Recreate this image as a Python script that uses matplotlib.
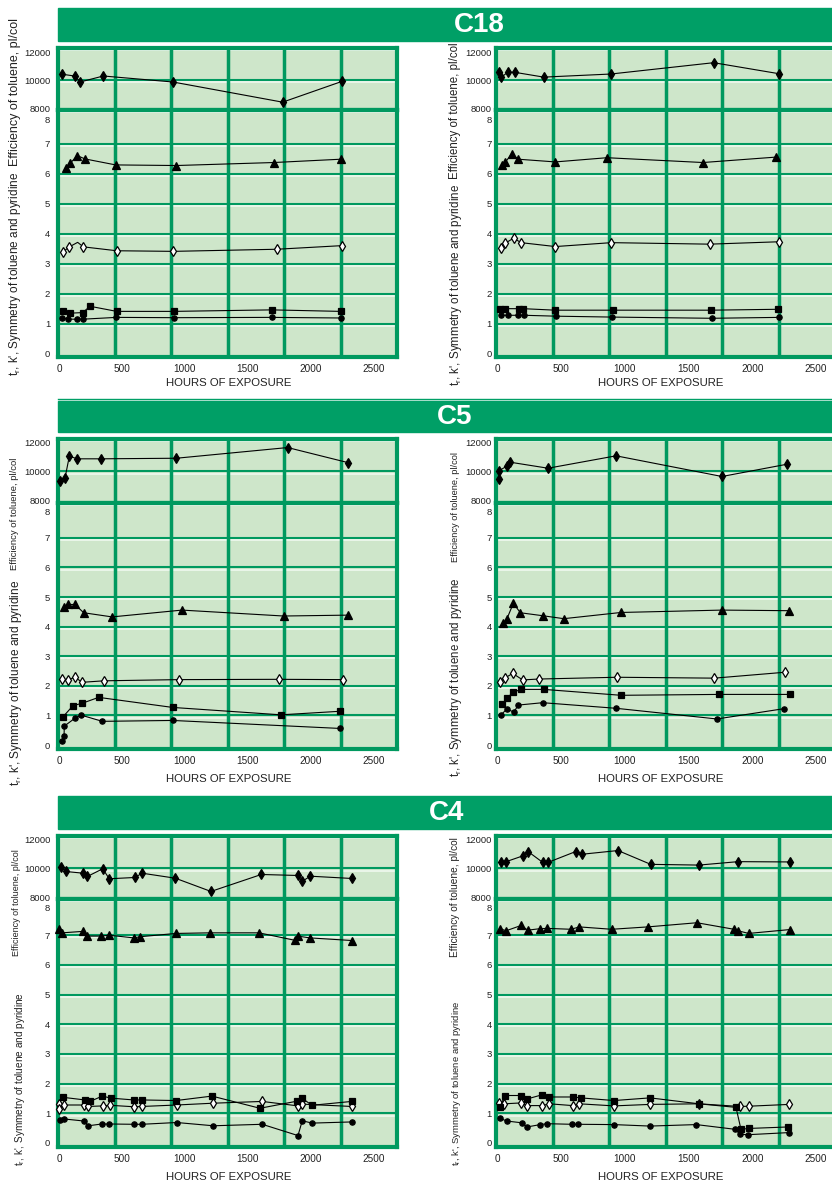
import matplotlib
matplotlib.use("Agg")
import matplotlib.pyplot as plt
from matplotlib.patches import Rectangle
from matplotlib.lines import Line2D
from matplotlib.transforms import ScaledTranslation

plt.rcParams['font.family'] = ['Liberation Sans', 'DejaVu Sans']

# ---------------- DATA (hours of exposure, values) ----------------
SECTIONS = ["C18", "C5", "C4"]
X_TICKS = [0, 500, 1000, 1500, 2000, 2500]
EFF_TICKS = [8000, 10000, 12000]
SYM_TICKS = [0, 1, 2, 3, 4, 5, 6, 7, 8]
X_LABEL = "HOURS OF EXPOSURE"
EFF_LABEL = "Efficiency of toluene, pl/col"
SYM_LABEL = "t$_\\mathregular{r}$, k', Symmetry of toluene and pyridine"

# C18 left
C18L_eff_h = [21, 130, 167, 352, 905, 1775, 2248]
C18L_eff_v = [10420, 10280, 9860, 10290, 9860, 8420, 9910]
C18L_tri_h = [53, 90, 145, 206, 450, 931, 1706, 2236]
C18L_tri_v = [6.21, 6.36, 6.61, 6.50, 6.30, 6.28, 6.38, 6.49]
C18L_odia_h = [34, 82, 148, 193, 458, 907, 1728, 2243]
C18L_odia_v = [3.41, 3.57, 3.72, 3.57, 3.44, 3.42, 3.49, 3.61]
C18L_sq_h = [29, 87, 188, 246, 458, 910, 1688, 2236]
C18L_sq_v = [1.42, 1.36, 1.38, 1.59, 1.42, 1.42, 1.47, 1.42]
C18L_cir_h = [26, 71, 145, 190, 455, 910, 1688, 2236]
C18L_cir_v = [1.21, 1.16, 1.16, 1.16, 1.22, 1.21, 1.22, 1.20]

# C18 right
C18R_eff_h = [13, 34, 84, 141, 366, 891, 1698, 2212]
C18R_eff_v = [10590, 10190, 10570, 10550, 10210, 10430, 11240, 10450]
C18R_tri_h = [37, 65, 115, 167, 457, 862, 1614, 2184]
C18R_tri_v = [6.31, 6.39, 6.67, 6.49, 6.40, 6.54, 6.38, 6.56]
C18R_odia_h = [29, 63, 131, 188, 457, 896, 1667, 2212]
C18R_odia_v = [3.52, 3.69, 3.86, 3.71, 3.58, 3.71, 3.66, 3.74]
C18R_sq_h = [26, 65, 175, 206, 457, 907, 1675, 2202]
C18R_sq_v = [1.51, 1.51, 1.51, 1.51, 1.46, 1.46, 1.46, 1.49]
C18R_cir_h = [29, 84, 165, 214, 465, 904, 1683, 2210]
C18R_cir_v = [1.29, 1.29, 1.29, 1.29, 1.26, 1.23, 1.19, 1.22]

# C5 left
C5L_eff_h = [8, 48, 82, 145, 333, 931, 1815, 2291]
C5L_eff_v = [9320, 9560, 11070, 10890, 10890, 10930, 11680, 10630]
C5L_tri_h = [42, 74, 127, 196, 421, 976, 1783, 2296]
C5L_tri_v = [4.67, 4.75, 4.75, 4.47, 4.33, 4.56, 4.36, 4.39]
C5L_odia_h = [21, 74, 125, 185, 357, 950, 1744, 2256]
C5L_odia_v = [2.22, 2.20, 2.29, 2.12, 2.17, 2.21, 2.22, 2.21]
C5L_sq_h = [29, 111, 183, 315, 902, 1762, 2230]
C5L_sq_v = [0.94, 1.33, 1.41, 1.61, 1.27, 1.02, 1.14]
C5L_cir_h = [24, 40, 42, 125, 175, 344, 902, 2230]
C5L_cir_v = [0.15, 0.31, 0.64, 0.90, 1.01, 0.80, 0.83, 0.56]

# C5 right
C5R_eff_h = [15, 18, 76, 104, 400, 933, 1763, 2273]
C5R_eff_v = [9490, 10070, 10370, 10650, 10230, 11100, 9650, 10510]
C5R_tri_h = [49, 78, 128, 183, 358, 523, 972, 1763, 2286]
C5R_tri_v = [4.11, 4.27, 4.79, 4.47, 4.37, 4.27, 4.48, 4.56, 4.54]
C5R_odia_h = [24, 60, 123, 201, 327, 940, 1703, 2259]
C5R_odia_v = [2.12, 2.26, 2.42, 2.20, 2.23, 2.29, 2.26, 2.46]
C5R_sq_h = [39, 78, 125, 188, 366, 972, 1737, 2296]
C5R_sq_v = [1.37, 1.58, 1.78, 1.88, 1.88, 1.68, 1.71, 1.71]
C5R_cir_h = [29, 78, 131, 167, 358, 935, 1724, 2252]
C5R_cir_v = [1.01, 1.22, 1.11, 1.35, 1.43, 1.24, 0.88, 1.23]

# C4 left
C4L_eff_h = [18, 53, 193, 225, 347, 399, 603, 659, 923, 1206, 1606, 1897, 1929, 1995, 2325]
C4L_eff_v = [10140, 9790, 9670, 9440, 9980, 9280, 9370, 9670, 9320, 8390, 9580, 9510, 9090, 9460, 9300]
C4L_tri_h = [2, 24, 193, 225, 336, 397, 593, 645, 929, 1201, 1587, 1871, 1894, 1992, 2328]
C4L_tri_v = [7.22, 7.08, 7.13, 6.97, 6.97, 7.00, 6.91, 6.95, 7.06, 7.08, 7.08, 6.83, 6.97, 6.91, 6.82]
C4L_odia_h = [2, 2, 40, 198, 228, 352, 405, 598, 656, 934, 1220, 1613, 1897, 1926, 2328]
C4L_odia_v = [1.32, 1.14, 1.28, 1.28, 1.23, 1.25, 1.27, 1.22, 1.23, 1.28, 1.34, 1.40, 1.25, 1.31, 1.23]
C4L_sq_h = [29, 206, 246, 344, 413, 595, 659, 929, 1214, 1595, 1891, 1929, 2008, 2323]
C4L_sq_v = [1.54, 1.45, 1.40, 1.58, 1.51, 1.45, 1.45, 1.43, 1.58, 1.17, 1.41, 1.51, 1.27, 1.40]
C4L_cir_h = [8, 40, 198, 233, 339, 399, 595, 656, 934, 1225, 1613, 1897, 1931, 2008, 2328]
C4L_cir_v = [0.78, 0.81, 0.74, 0.58, 0.64, 0.64, 0.63, 0.63, 0.69, 0.58, 0.63, 0.25, 0.75, 0.67, 0.71]

# C4 right
C4R_eff_h = [31, 71, 204, 243, 358, 400, 617, 666, 948, 1205, 1583, 1889, 2296]
C4R_eff_v = [10480, 10480, 10890, 11190, 10430, 10430, 11190, 11000, 11260, 10290, 10240, 10480, 10460]
C4R_tri_h = [24, 71, 190, 240, 337, 394, 580, 645, 899, 1181, 1567, 1857, 1889, 1972, 2294]
C4R_tri_v = [7.22, 7.15, 7.33, 7.17, 7.22, 7.23, 7.20, 7.28, 7.20, 7.28, 7.42, 7.20, 7.15, 7.06, 7.19]
C4R_odia_h = [18, 57, 188, 235, 353, 410, 593, 645, 917, 1199, 1581, 1904, 1977, 2291]
C4R_odia_v = [1.35, 1.32, 1.35, 1.26, 1.26, 1.32, 1.26, 1.32, 1.25, 1.30, 1.32, 1.23, 1.24, 1.30]
C4R_sq_h = [21, 63, 188, 233, 350, 410, 596, 656, 917, 1199, 1583, 1873, 1912, 1972, 2281]
C4R_sq_v = [1.20, 1.60, 1.60, 1.48, 1.62, 1.55, 1.55, 1.52, 1.43, 1.52, 1.32, 1.20, 0.46, 0.49, 0.54]
C4R_cir_h = [24, 76, 194, 235, 339, 392, 588, 637, 915, 1199, 1562, 1868, 1904, 1970, 2286]
C4R_cir_v = [0.83, 0.74, 0.68, 0.54, 0.62, 0.65, 0.63, 0.63, 0.62, 0.57, 0.62, 0.46, 0.29, 0.28, 0.35]

PANELS = {
    ("C18", "L"): dict(eff=(C18L_eff_h, C18L_eff_v), tri=(C18L_tri_h, C18L_tri_v),
                       odia=(C18L_odia_h, C18L_odia_v), sq=(C18L_sq_h, C18L_sq_v),
                       cir=(C18L_cir_h, C18L_cir_v), odia_hidden=[2]),
    ("C18", "R"): dict(eff=(C18R_eff_h, C18R_eff_v), tri=(C18R_tri_h, C18R_tri_v),
                       odia=(C18R_odia_h, C18R_odia_v), sq=(C18R_sq_h, C18R_sq_v),
                       cir=(C18R_cir_h, C18R_cir_v)),
    ("C5", "L"): dict(eff=(C5L_eff_h, C5L_eff_v), tri=(C5L_tri_h, C5L_tri_v),
                      odia=(C5L_odia_h, C5L_odia_v), sq=(C5L_sq_h, C5L_sq_v),
                      cir=(C5L_cir_h, C5L_cir_v)),
    ("C5", "R"): dict(eff=(C5R_eff_h, C5R_eff_v), tri=(C5R_tri_h, C5R_tri_v),
                      odia=(C5R_odia_h, C5R_odia_v), sq=(C5R_sq_h, C5R_sq_v),
                      cir=(C5R_cir_h, C5R_cir_v)),
    ("C4", "L"): dict(eff=(C4L_eff_h, C4L_eff_v), tri=(C4L_tri_h, C4L_tri_v),
                      odia=(C4L_odia_h, C4L_odia_v), sq=(C4L_sq_h, C4L_sq_v),
                      cir=(C4L_cir_h, C4L_cir_v)),
    ("C4", "R"): dict(eff=(C4R_eff_h, C4R_eff_v), tri=(C4R_tri_h, C4R_tri_v),
                      odia=(C4R_odia_h, C4R_odia_v), sq=(C4R_sq_h, C4R_sq_v),
                      cir=(C4R_cir_h, C4R_cir_v)),
}

# ---------------- LAYOUT (pixels) ----------------
W, H, DPI = 832, 1183, 100
GREEN = '#009F66'
FRAME = '#00995F'
CELL = '#CEE6CA'
HILITE = '#F2FAF2'

SEC = {
    "C18": dict(head=(8, 41), title_x=454, top=48, sep=110, bot=357,
                eff_lim=(7860, 12290), sym_lim=(-0.10, 8.13), tick_y=369, xlab_y=383,
                eight_shift=6, line_y=399),
    "C5": dict(head=(401, 432), title_x=437, top=439, sep=503, bot=749,
               eff_lim=(7790, 12280), sym_lim=(-0.135, 8.18), tick_y=761, xlab_y=779,
               eight_shift=3, line_y=None),
    "C4": dict(head=(796, 829), title_x=429, top=836, sep=899, bot=1147,
               eff_lim=(7860, 12280), sym_lim=(-0.135, 8.22), tick_y=1158, xlab_y=1177,
               eight_shift=2, line_y=None),
}
SIDE = {
    "L": dict(x0=58, x1=397, xlim=(-8, 2683), pad=5.6, xlab_x=229),
    "R": dict(x0=496, x1=835, xlim=(-8, 2649), pad=2.9, xlab_x=661),
}
# y-label placement (center x, center y, fontsize)
YLAB = {
    ("C18", "L"): ((15, 92, 9.0), (15, 274, 8.5)),
    ("C18", "R"): ((455, 111, 8.3), (456, 285, 8.4)),
    ("C5", "L"): ((15, 514, 6.8), (16, 683, 8.6)),
    ("C5", "R"): ((455, 507, 6.7), (456, 677, 8.3)),
    ("C4", "L"): ((17, 903, 6.5), (20, 1079, 7.2)),
    ("C4", "R"): ((455, 897, 7.3), (456, 1083, 6.8)),
}

fig = plt.figure(figsize=(W / DPI, H / DPI), dpi=DPI)
fig.patch.set_facecolor('white')


def fx(x):
    return x / W


def fy(y):
    return 1 - y / H


def px_axes(x0, y0, x1, y1):
    return fig.add_axes([x0 / W, 1 - y1 / H, (x1 - x0) / W, (y1 - y0) / H])


def decorate(ax, hvals):
    ax.set_facecolor(CELL)
    for s in ax.spines.values():
        s.set_color(FRAME)
        s.set_linewidth(3.0)
        s.set_zorder(3)
    off = ScaledTranslation(0, -2.2 / DPI, fig.dpi_scale_trans)
    ytr = ax.get_yaxis_transform()
    top = ax.get_ylim()[1]
    for yv in list(hvals) + [top]:
        if yv != top:
            ax.add_line(Line2D([0, 1], [yv, yv], transform=ytr, color=FRAME, lw=1.5, zorder=1.5))
        ax.add_line(Line2D([0, 1], [yv, yv], transform=ytr + off, color=HILITE, lw=1.1, zorder=1.6))
    for k in range(1, 6):
        ax.add_line(Line2D([k / 6.0, k / 6.0], [0, 1], transform=ax.transAxes,
                           color=FRAME, lw=2.5, zorder=2))
    ax.tick_params(length=0, labelsize=6.8, colors='#222222')


def series(ax, hv, marker, ms, mfc='black', markevery=None):
    h, v = hv
    ax.plot(h, v, color='black', lw=0.8, marker=marker, ms=ms, mfc=mfc, mec='black',
            mew=0.9, zorder=5, clip_on=False, markevery=markevery)


for sec in SECTIONS:
    S = SEC[sec]
    h0, h1 = S["head"]
    fig.patches.append(Rectangle((fx(58), fy(h1)), fx(832 - 58) + 0.01, (h1 - h0) / H,
                                 transform=fig.transFigure, color=GREEN, zorder=0))
    fig.text(fx(S["title_x"]), fy((h0 + h1) / 2 + 1), sec, color='white', fontsize=20,
             fontweight='bold', ha='left', va='center')
    if S["line_y"] is not None:
        fig.add_artist(Line2D([fx(58), 1.0], [fy(S["line_y"])] * 2, transform=fig.transFigure,
                              color=GREEN, lw=1.0))
    for side in ("L", "R"):
        D = SIDE[side]
        P = PANELS[(sec, side)]
        # efficiency axes
        axe = px_axes(D["x0"], S["top"], D["x1"], S["sep"])
        axe.set_xlim(*D["xlim"])
        axe.set_ylim(*S["eff_lim"])
        decorate(axe, [10000])
        axe.set_xticks(X_TICKS)
        axe.tick_params(axis='x', labelbottom=False)
        axe.set_yticks(EFF_TICKS)
        axe.tick_params(axis='y', pad=D["pad"])
        series(axe, P["eff"], 'd', 5.0)
        # symmetry axes
        axs = px_axes(D["x0"], S["sep"], D["x1"], S["bot"])
        axs.set_xlim(*D["xlim"])
        axs.set_ylim(*S["sym_lim"])
        decorate(axs, [1, 2, 3, 4, 5, 6, 7])
        axs.set_xticks(X_TICKS)
        axs.set_xticklabels([str(t) for t in X_TICKS])
        axs.tick_params(axis='x', pad=5.0, labelsize=7.2)
        axs.set_yticks(SYM_TICKS)
        axs.tick_params(axis='y', pad=D["pad"])
        lab8 = axs.get_yticklabels()[-1]
        lab8.set_transform(lab8.get_transform() +
                           ScaledTranslation(0, -S["eight_shift"] / DPI, fig.dpi_scale_trans))
        series(axs, P["tri"], '^', 5.5)
        hidden = P.get("odia_hidden", [])
        mev = [i for i in range(len(P["odia"][0])) if i not in hidden]
        series(axs, P["odia"], 'd', 4.8, mfc='white', markevery=mev)
        series(axs, P["sq"], 's', 5.0)
        series(axs, P["cir"], 'o', 3.8)
        # axis label texts
        fig.text(fx(D["xlab_x"]), fy(S["xlab_y"]), X_LABEL, fontsize=8.2, ha='center',
                 va='center', color='#222222')
        (ex, ey, es), (sx, sy, ss) = YLAB[(sec, side)]
        fig.text(fx(ex), fy(ey), EFF_LABEL, rotation=90, fontsize=es, ha='center',
                 va='center', color='#222222')
        fig.text(fx(sx), fy(sy), SYM_LABEL, rotation=90, fontsize=ss, ha='center',
                 va='center', color='#222222')

fig.savefig("out.png", dpi=DPI, facecolor='white')
